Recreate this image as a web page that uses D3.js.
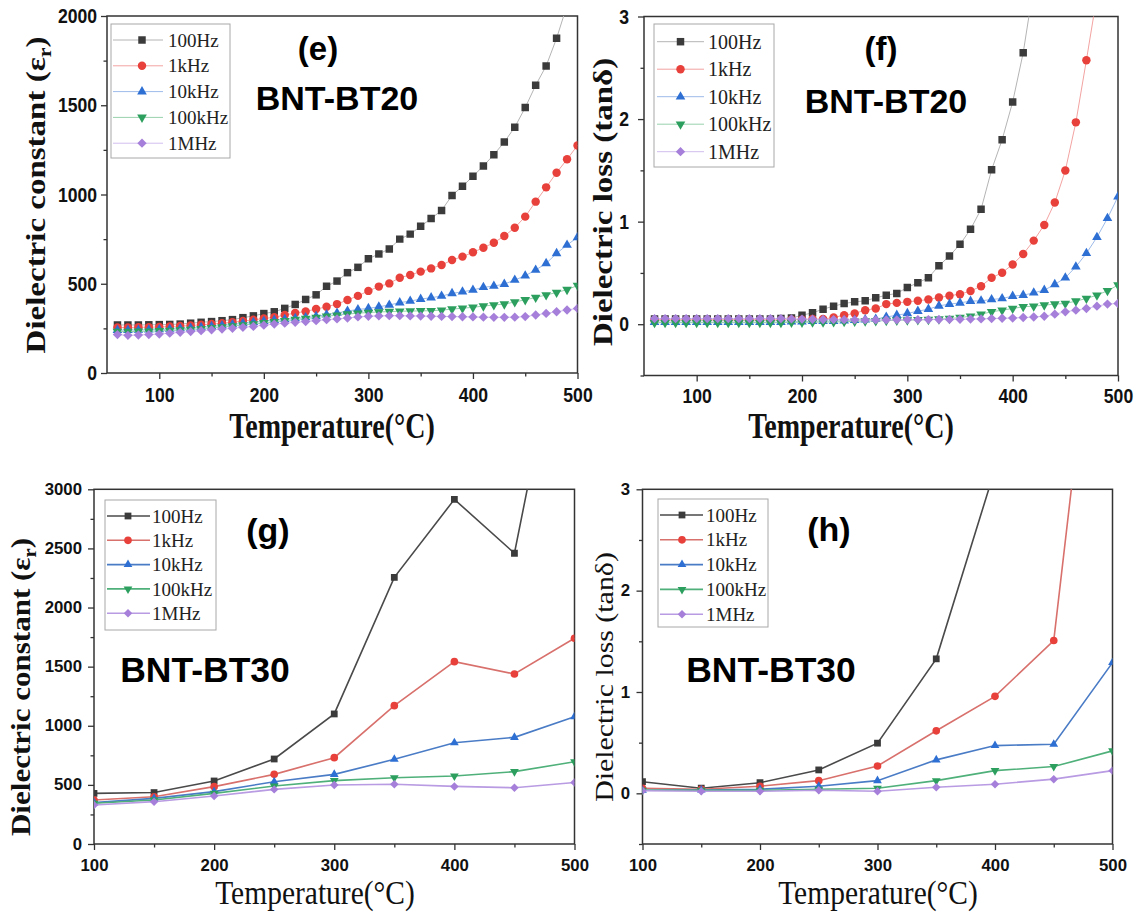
<!DOCTYPE html>
<html lang="en">
<head>
<meta charset="UTF-8">
<title>Dielectric constant and loss of BNT-BT20 / BNT-BT30</title>
<style>
    body {
        margin: 0;
        padding: 0;
        background: #fff;
    }
    svg { display: block; }
    .tick text {
        font-family: "Liberation Sans", Arial, sans-serif;
        font-weight: bold;
        fill: #111;
    }
    .tick line { stroke: #333; stroke-width: 1.3; }
    .axis-title { font-family: "Liberation Serif", "Times New Roman", serif; fill: #111; }
    .panel-label { font-family: "Liberation Sans", Arial, sans-serif; font-weight: bold; fill: #000; }
    .legend text { font-family: "Liberation Serif", "Times New Roman", serif; fill: #222; }
</style>
</head>
<body>
<div id="chart"></div>

<script src="https://cdn.jsdelivr.net/npm/d3@7"></script>
<script>
    // ---- data ----
    var seriesNames = ["100Hz", "1kHz", "10kHz", "100kHz", "1MHz"];

    // BNT-BT20, measured every 10 °C
    var tempsBT20 = [60, 70, 80, 90, 100, 110, 120, 130, 140, 150, 160, 170, 180, 190, 200,
                     210, 220, 230, 240, 250, 260, 270, 280, 290, 300, 310, 320, 330, 340, 350,
                     360, 370, 380, 390, 400, 410, 420, 430, 440, 450, 460, 470, 480, 490, 500];

    var epsBT20_100Hz = [269, 269, 269, 270, 271, 272, 274, 279, 284, 288, 293, 299, 310, 320, 333,
                         343, 362, 384, 412, 438, 486, 515, 562, 592, 640, 667, 695, 750, 778, 822,
                         865, 911, 995, 1046, 1102, 1160, 1223, 1294, 1377, 1487, 1612, 1720, 1875, 2060, 2300];
    var epsBT20_1kHz = [255, 255, 256, 257, 258, 260, 263, 266, 270, 274, 279, 285, 291, 298, 305,
                        312, 325, 336, 345, 358, 371, 386, 409, 432, 460, 484, 502, 534, 549, 568,
                        586, 605, 633, 652, 676, 702, 730, 767, 814, 876, 960, 1040, 1122, 1197, 1275];
    var epsBT20_10kHz = [240, 240, 241, 242, 244, 246, 249, 252, 256, 261, 266, 272, 278, 284, 290,
                         296, 301, 306, 311, 317, 327, 336, 347, 356, 362, 371, 381, 394, 403, 414,
                         422, 431, 446, 455, 465, 480, 487, 498, 521, 545, 577, 614, 670, 717, 760];
    var epsBT20_100kHz = [232, 232, 233, 234, 236, 238, 241, 244, 248, 253, 258, 263, 269, 275, 281,
                          287, 293, 299, 305, 311, 318, 324, 330, 335, 339, 342, 344, 346, 347, 348,
                          349, 352, 358, 363, 368, 375, 381, 386, 398, 410, 423, 437, 451, 467, 490];
    var epsBT20_1MHz = [215, 211, 213, 215, 218, 223, 228, 232, 237, 242, 246, 250, 256, 261, 268,
                        274, 279, 284, 288, 293, 299, 303, 308, 314, 318, 320, 321, 321, 320, 319,
                        318, 317, 316, 315, 314, 313, 312, 312, 313, 316, 325, 334, 343, 353, 362];

    var lossBT20_100Hz = [0.05, 0.05, 0.05, 0.05, 0.05, 0.05, 0.05, 0.05, 0.05, 0.05, 0.05, 0.05, 0.055, 0.06, 0.088,
                          0.111, 0.147, 0.176, 0.202, 0.218, 0.228, 0.257, 0.283, 0.300, 0.359, 0.404, 0.453, 0.570, 0.665, 0.779,
                          0.925, 1.121, 1.505, 1.799, 2.167, 2.646, 3.3, 4.1, 5.0, 6.0, 7.2, 8.5, 10, 11.5, 13];
    var lossBT20_1kHz = [0.04, 0.04, 0.04, 0.04, 0.04, 0.04, 0.04, 0.04, 0.04, 0.04, 0.04, 0.04, 0.04, 0.045, 0.045,
                         0.05, 0.05, 0.065, 0.088, 0.105, 0.137, 0.153, 0.196, 0.208, 0.218, 0.228, 0.241, 0.261, 0.277, 0.293,
                         0.323, 0.371, 0.453, 0.502, 0.583, 0.684, 0.815, 0.968, 1.186, 1.499, 1.968, 2.574, 3.2, 4.1, 5.2];
    var lossBT20_10kHz = [0.02, 0.02, 0.02, 0.02, 0.02, 0.02, 0.02, 0.02, 0.02, 0.02, 0.02, 0.02, 0.02, 0.025, 0.025,
                          0.03, 0.03, 0.03, 0.035, 0.04, 0.045, 0.05, 0.07, 0.088, 0.105, 0.127, 0.147, 0.179, 0.196, 0.208,
                          0.225, 0.228, 0.241, 0.251, 0.274, 0.283, 0.306, 0.332, 0.388, 0.453, 0.560, 0.691, 0.848, 1.033, 1.244];
    var lossBT20_100kHz = [0.015, 0.015, 0.015, 0.015, 0.015, 0.015, 0.015, 0.015, 0.015, 0.015, 0.015, 0.015, 0.015, 0.018, 0.018,
                           0.02, 0.02, 0.022, 0.025, 0.028, 0.03, 0.032, 0.035, 0.038, 0.04, 0.042, 0.045, 0.05, 0.055, 0.065,
                           0.078, 0.098, 0.121, 0.137, 0.153, 0.170, 0.176, 0.186, 0.196, 0.202, 0.225, 0.251, 0.283, 0.326, 0.381];
    var lossBT20_1MHz = [0.055, 0.055, 0.055, 0.055, 0.055, 0.055, 0.055, 0.055, 0.055, 0.055, 0.055, 0.055, 0.055, 0.052, 0.05,
                         0.048, 0.046, 0.045, 0.044, 0.043, 0.042, 0.042, 0.042, 0.043, 0.044, 0.044, 0.045, 0.046, 0.047, 0.048,
                         0.05, 0.052, 0.055, 0.058, 0.06, 0.065, 0.07, 0.078, 0.098, 0.121, 0.137, 0.153, 0.176, 0.196, 0.202];

    // BNT-BT30, measured every 50 °C
    var tempsBT30 = [100, 150, 200, 250, 300, 350, 400, 450, 500];

    var epsBT30_100Hz = [428, 435, 533, 719, 1100, 2255, 2915, 2459, 5000];
    var epsBT30_1kHz = [372, 400, 485, 589, 730, 1170, 1542, 1438, 1740];
    var epsBT30_10kHz = [350, 386, 443, 527, 589, 716, 857, 902, 1077];
    var epsBT30_100kHz = [345, 372, 428, 490, 536, 560, 575, 612, 695];
    var epsBT30_1MHz = [330, 358, 406, 462, 499, 505, 487, 476, 520];

    var lossBT30_100Hz = [0.115, 0.05, 0.105, 0.231, 0.495, 1.327, 3.2, 6.0, 9.0];
    var lossBT30_1kHz = [0.05, 0.04, 0.07, 0.125, 0.27, 0.617, 0.957, 1.508, 6.5];
    var lossBT30_10kHz = [0.03, 0.033, 0.04, 0.07, 0.125, 0.33, 0.471, 0.485, 1.29];
    var lossBT30_100kHz = [0.03, 0.03, 0.03, 0.04, 0.05, 0.125, 0.224, 0.264, 0.419];
    var lossBT30_1MHz = [0.025, 0.02, 0.02, 0.03, 0.02, 0.06, 0.09, 0.14, 0.224];

    // tick values
    var tempTicksBT20 = [100, 200, 300, 400, 500];
    var tempMinorBT20 = [150, 250, 350, 450];
    var tempTicksBT30 = [100, 200, 300, 400, 500];
    var tempMinorBT30 = [150, 250, 350, 450];
    var epsTicksBT20 = [0, 500, 1000, 1500, 2000];
    var epsMinorBT20 = [250, 750, 1250, 1750];
    var epsTicksBT30 = [0, 500, 1000, 1500, 2000, 2500, 3000];
    var epsMinorBT30 = [250, 750, 1250, 1750, 2250, 2750];
    var lossTicks = [0, 1, 2, 3];
    var lossMinor = [-0.5, 0.5, 1.5, 2.5];

    // ---- styles ----
    var markerColors = ["#3b3b3b", "#e8403b", "#2d6fd3", "#2c9f5e", "#a57fd9"];
    var thinLineColors = ["#b4b4b4", "#f2a3a1", "#9dbbe9", "#97d2ad", "#d0bdee"];
    var thickLineColors = ["#4a4a4a", "#d8706c", "#4a7cc6", "#4fb07a", "#b89be2"];
    var shapes = [
        { type: d3.symbolSquare, rotate: 0, scale: 1 },
        { type: d3.symbolCircle, rotate: 0, scale: 1 },
        { type: d3.symbolTriangle, rotate: 0, scale: 0.72 },
        { type: d3.symbolTriangle, rotate: 180, scale: 0.72 },
        { type: d3.symbolSquare, rotate: 45, scale: 0.78 }
    ];

    var svg = d3.select("#chart").append("svg")
        .attr("width", 1138)
        .attr("height", 915);
    var defs = svg.append("defs");

    // the source figure is stretched a little vertically, so texts get a y scale (k)
    var panels = [
        {
            id: "e", left: 107, right: 577.5, top: 16, bottom: 373,
            xDomain: [50, 500], yDomain: [0, 2000],
            xTicks: tempTicksBT20, xMinor: tempMinorBT20, yTicks: epsTicksBT20, yMinor: epsMinorBT20,
            tickFont: 17.6, tickK: 1.19, xPad: 7.7, yPad: 4,
            temps: tempsBT20,
            values: [epsBT20_100Hz, epsBT20_1kHz, epsBT20_10kHz, epsBT20_100kHz, epsBT20_1MHz],
            dense: true,
            xTitle: { x: 332, y: 438, size: 28, k: 1.25, weight: "bold" },
            yTitle: { kind: "eps", bx: 45, y: 195, size: 27.5, k: 1.2, weight: "bold" },
            tag: "(e)", tagX: 318, tagY: 60, tagSize: 33,
            name: "BNT-BT20", nameX: 337, nameY: 110, nameSize: 34,
            legend: { x: 111, y: 24, w: 119, h: 134, row0: 40, step: 25.8, lx0: 113, lx1: 163, mx: 142, tx: 168, font: 19 }
        },
        {
            id: "f", left: 644, right: 1118, top: 16.5, bottom: 375.5,
            xDomain: [50, 500], yDomain: [-0.5, 3],
            xTicks: tempTicksBT20, xMinor: tempMinorBT20, yTicks: lossTicks, yMinor: lossMinor,
            tickFont: 17.6, tickK: 1.19, xPad: 6.5, yPad: 9,
            temps: tempsBT20,
            values: [lossBT20_100Hz, lossBT20_1kHz, lossBT20_10kHz, lossBT20_100kHz, lossBT20_1MHz],
            dense: true,
            xTitle: { x: 851, y: 438, size: 28, k: 1.25, weight: "bold" },
            yTitle: { kind: "loss", bx: 612, y: 202, size: 27.5, k: 1.2, weight: "bold" },
            tag: "(f)", tagX: 881, tagY: 60, tagSize: 33,
            name: "BNT-BT20", nameX: 886, nameY: 113, nameSize: 34,
            legend: { x: 654, y: 24, w: 120, h: 143, row0: 41.7, step: 27.5, lx0: 657, lx1: 704, mx: 680.5, tx: 708, font: 20 }
        },
        {
            id: "g", left: 94, right: 574.5, top: 489.3, bottom: 844,
            xDomain: [100, 500], yDomain: [0, 3000],
            xTicks: tempTicksBT30, xMinor: tempMinorBT30, yTicks: epsTicksBT30, yMinor: epsMinorBT30,
            tickFont: 16.8, tickK: 0.95, xPad: 10, yPad: 6,
            temps: tempsBT30,
            values: [epsBT30_100Hz, epsBT30_1kHz, epsBT30_10kHz, epsBT30_100kHz, epsBT30_1MHz],
            dense: false,
            xTitle: { x: 315, y: 904, size: 29.5, k: 1.12, weight: "normal" },
            yTitle: { kind: "eps", bx: 30, y: 687, size: 27, k: 1.15, weight: "bold" },
            tag: "(g)", tagX: 268, tagY: 542, tagSize: 34,
            name: "BNT-BT30", nameX: 205, nameY: 682, nameSize: 35.5,
            legend: { x: 105, y: 500, w: 111, h: 130, row0: 516, step: 24.3, lx0: 107, lx1: 150, mx: 128, tx: 152, font: 19 }
        },
        {
            id: "h", left: 642.5, right: 1112.5, top: 489.3, bottom: 844,
            xDomain: [100, 500], yDomain: [-0.5, 3],
            xTicks: tempTicksBT30, xMinor: tempMinorBT30, yTicks: lossTicks, yMinor: lossMinor,
            tickFont: 16.8, tickK: 0.95, xPad: 10, yPad: 6.5,
            temps: tempsBT30,
            values: [lossBT30_100Hz, lossBT30_1kHz, lossBT30_10kHz, lossBT30_100kHz, lossBT30_1MHz],
            dense: false,
            xTitle: { x: 878, y: 904, size: 29.5, k: 1.12, weight: "normal" },
            yTitle: { kind: "loss", bx: 613, y: 677, size: 26, k: 1.15, weight: "normal" },
            tag: "(h)", tagX: 829, tagY: 541, tagSize: 34,
            name: "BNT-BT30", nameX: 771, nameY: 682, nameSize: 35.5,
            legend: { x: 658, y: 499, w: 110, h: 128, row0: 515, step: 24.8, lx0: 660, lx1: 703, mx: 682, tx: 706, font: 19 }
        }
    ];

    function markerPath(i, dense) {
        var s = shapes[i];
        var area = (dense ? 56 : 46) * s.scale;
        return d3.symbol().type(s.type).size(area)();
    }

    // scale tick texts vertically while keeping their top edge where d3 put it
    function stretchTicks(sel, size, k) {
        sel.selectAll(".tick text").each(function() {
            var t = d3.select(this);
            var yv = +t.attr("y") || 0;
            t.attr("font-size", size + "px")
             .attr("y", yv / k)
             .attr("transform", "scale(1," + k + ")");
        });
    }

    function drawPanel(p) {
        var x = d3.scaleLinear().domain(p.xDomain).range([p.left, p.right]);
        var y = d3.scaleLinear().domain(p.yDomain).range([p.bottom, p.top]);
        var g = svg.append("g").attr("class", "panel-" + p.id);

        defs.append("clipPath").attr("id", "clip-" + p.id)
            .append("rect")
            .attr("x", p.left).attr("y", p.top)
            .attr("width", p.right - p.left).attr("height", p.bottom - p.top);

        // x axis (major + minor ticks)
        var xAxis = g.append("g")
            .attr("transform", "translate(0," + p.bottom + ")")
            .call(d3.axisBottom(x).tickValues(p.xTicks).tickSize(6).tickSizeOuter(0)
                .tickPadding(p.xPad).tickFormat(d3.format("d")));
        xAxis.select(".domain").remove();
        stretchTicks(xAxis, p.tickFont, p.tickK);
        g.append("g")
            .attr("transform", "translate(0," + p.bottom + ")")
            .call(d3.axisBottom(x).tickValues(p.xMinor).tickSize(3.5).tickSizeOuter(0).tickFormat(""))
            .select(".domain").remove();

        // y axis
        var yAxis = g.append("g")
            .attr("transform", "translate(" + p.left + ",0)")
            .call(d3.axisLeft(y).tickValues(p.yTicks).tickSize(6).tickSizeOuter(0)
                .tickPadding(p.yPad).tickFormat(d3.format("d")));
        yAxis.select(".domain").remove();
        stretchTicks(yAxis, p.tickFont, p.tickK);
        g.append("g")
            .attr("transform", "translate(" + p.left + ",0)")
            .call(d3.axisLeft(y).tickValues(p.yMinor).tickSize(3.5).tickSizeOuter(0).tickFormat(""))
            .select(".domain").remove();

        // frame
        g.append("rect")
            .attr("x", p.left).attr("y", p.top)
            .attr("width", p.right - p.left).attr("height", p.bottom - p.top)
            .attr("fill", "none")
            .attr("stroke", "#333")
            .attr("stroke-width", 1.5);

        // series
        var plot = g.append("g").attr("clip-path", "url(#clip-" + p.id + ")");
        var line = d3.line()
            .x(function(d) { return x(d.t); })
            .y(function(d) { return y(d.v); });

        p.values.forEach(function(vals, i) {
            var pts = p.temps.map(function(t, k) { return { t: t, v: vals[k] }; });
            plot.append("path")
                .datum(pts)
                .attr("d", line)
                .attr("fill", "none")
                .attr("stroke", p.dense ? thinLineColors[i] : thickLineColors[i])
                .attr("stroke-width", p.dense ? 1 : 1.6);
            plot.append("g").selectAll("path")
                .data(pts)
                .enter().append("path")
                .attr("d", markerPath(i, p.dense))
                .attr("transform", function(d) {
                    return "translate(" + x(d.t) + "," + y(d.v) + ") rotate(" + shapes[i].rotate + ")";
                })
                .attr("fill", markerColors[i]);
        });

        // axis titles
        var xt = p.xTitle;
        g.append("text")
            .attr("class", "axis-title")
            .attr("transform", "translate(" + xt.x + "," + xt.y + ") scale(1," + xt.k + ")")
            .attr("text-anchor", "middle")
            .attr("font-size", xt.size + "px")
            .attr("font-weight", xt.weight)
            .text("Temperature(°C)");

        var ytc = p.yTitle;
        var yt = g.append("text")
            .attr("class", "axis-title")
            .attr("transform", "translate(" + ytc.bx + "," + ytc.y + ") scale(1," + ytc.k + ") rotate(-90)")
            .attr("text-anchor", "middle")
            .attr("font-size", ytc.size + "px")
            .attr("font-weight", ytc.weight);
        if (ytc.kind === "eps") {
            yt.append("tspan").text("Dielectric constant (ε");
            yt.append("tspan").attr("font-size", (ytc.size * 0.66) + "px").attr("dy", "6px").text("r");
            yt.append("tspan").attr("dy", "-6px").text(")");
        } else {
            yt.text("Dielectric loss (tanδ)");
        }

        // panel tag and composition name
        g.append("text")
            .attr("class", "panel-label")
            .attr("x", p.tagX).attr("y", p.tagY)
            .attr("text-anchor", "middle")
            .attr("font-size", p.tagSize + "px")
            .text(p.tag);
        g.append("text")
            .attr("class", "panel-label")
            .attr("x", p.nameX).attr("y", p.nameY)
            .attr("text-anchor", "middle")
            .attr("font-size", p.nameSize + "px")
            .text(p.name);

        // legend
        var L = p.legend;
        var legend = g.append("g").attr("class", "legend");
        legend.append("rect")
            .attr("x", L.x).attr("y", L.y)
            .attr("width", L.w).attr("height", L.h)
            .attr("fill", "#fff")
            .attr("stroke", "#a8a8a8")
            .attr("stroke-width", 1);

        var rows = legend.selectAll("g.row")
            .data(seriesNames)
            .enter().append("g")
            .attr("class", "row")
            .attr("transform", function(d, i) { return "translate(0," + (L.row0 + i * L.step) + ")"; });

        rows.append("line")
            .attr("x1", L.lx0).attr("x2", L.lx1)
            .attr("y1", 0).attr("y2", 0)
            .attr("stroke", function(d, i) { return p.dense ? thinLineColors[i] : thickLineColors[i]; })
            .attr("stroke-width", p.dense ? 1 : 1.6);

        rows.append("path")
            .attr("d", function(d, i) { return markerPath(i, p.dense); })
            .attr("transform", function(d, i) { return "translate(" + L.mx + ",0) rotate(" + shapes[i].rotate + ")"; })
            .attr("fill", function(d, i) { return markerColors[i]; });

        rows.append("text")
            .attr("x", L.tx)
            .attr("y", 0)
            .attr("dy", "0.35em")
            .attr("font-size", L.font + "px")
            .text(function(d) { return d; });
    }

    panels.forEach(drawPanel);
</script>
</body>
</html>
